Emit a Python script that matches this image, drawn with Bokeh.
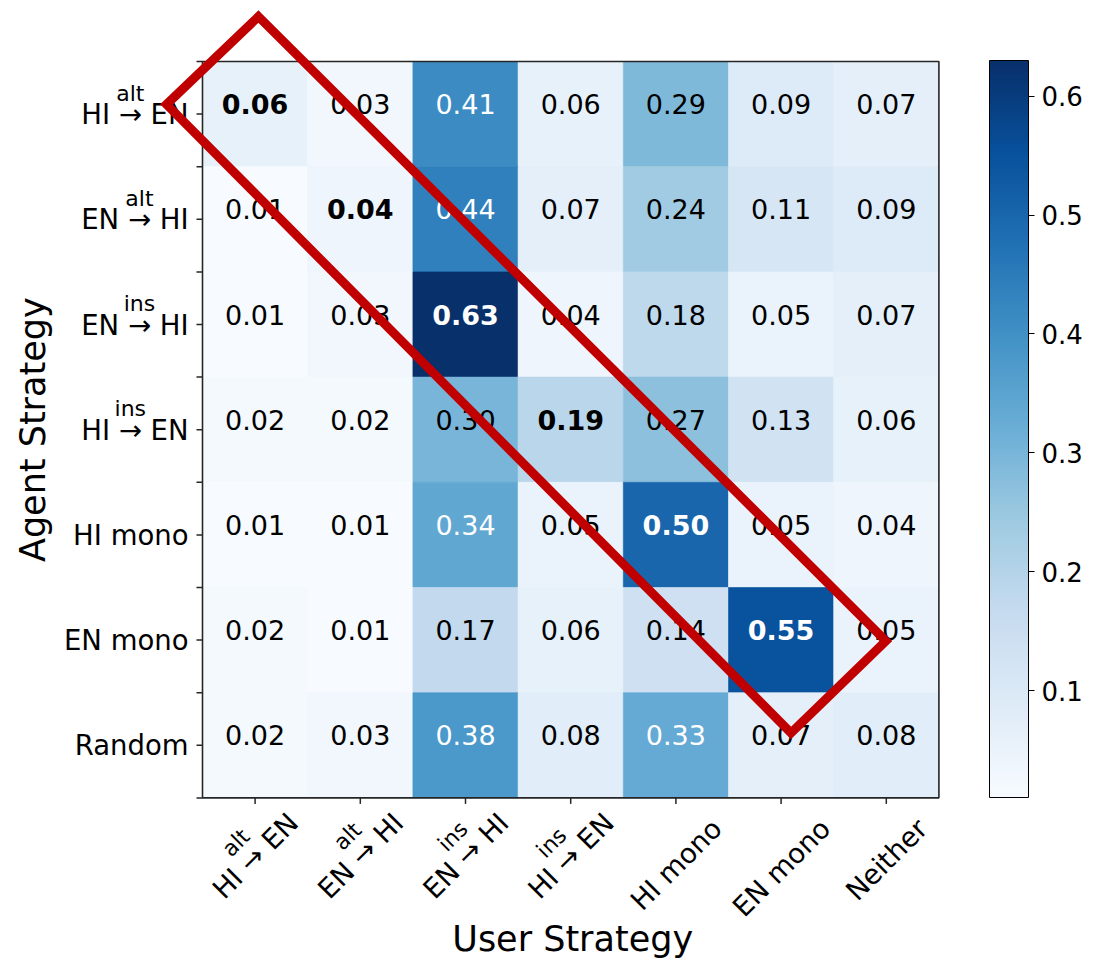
import numpy as np
from bokeh.plotting import figure
from bokeh.models import (ColumnDataSource, LinearColorMapper, ColorBar, FixedTicker,
                          Range1d, PrintfTickFormatter)
from bokeh.core.properties import value
from bokeh.embed import file_html
from bokeh.resources import INLINE

# ---------------- data ----------------
user_labels = ["HI → EN", "EN → HI", "EN → HI", "HI → EN", "HI mono", "EN mono", "Neither"]
user_sups = ["alt", "alt", "ins", "ins", "", "", ""]
agent_labels = ["HI → EN", "EN → HI", "EN → HI", "HI → EN", "HI mono", "EN mono", "Random"]
agent_sups = ["alt", "alt", "ins", "ins", "", "", ""]

row_hi_alt_en = [0.06, 0.03, 0.41, 0.06, 0.29, 0.09, 0.07]
row_en_alt_hi = [0.01, 0.04, 0.44, 0.07, 0.24, 0.11, 0.09]
row_en_ins_hi = [0.01, 0.03, 0.63, 0.04, 0.18, 0.05, 0.07]
row_hi_ins_en = [0.02, 0.02, 0.30, 0.19, 0.27, 0.13, 0.06]
row_hi_mono = [0.01, 0.01, 0.34, 0.05, 0.50, 0.05, 0.04]
row_en_mono = [0.02, 0.01, 0.17, 0.06, 0.14, 0.55, 0.05]
row_random = [0.02, 0.03, 0.38, 0.08, 0.33, 0.07, 0.08]
rows = [row_hi_alt_en, row_en_alt_hi, row_en_ins_hi, row_hi_ins_en,
        row_hi_mono, row_en_mono, row_random]

cbar_ticks = [0.1, 0.2, 0.3, 0.4, 0.5, 0.6]

# highlight band around the diagonal (data units: columns / rows)
band_x = [0.032, 5.996, 5.094, -0.842]
band_y = [6.927, 0.992, 0.118, 6.092]

# ---------------- layout helpers ----------------
n = len(rows)
cell = 105.2
HM_LEFT, HM_TOP = 202.0, 61.0
ORIGIN = 0
W, H = 1091, 958
FONT = "DejaVu Sans"

def px2x(sx):
    return (sx - HM_LEFT) / cell - 0.5

def px2y(sy):
    return (n - 0.5) - (sy - HM_TOP) / cell

EM = {"H": .752, "I": .295, " ": .318, "→": .838, "E": .632, "N": .748, "m": .974,
      "o": .612, "n": .634, "e": .615, "i": .278, "t": .392, "h": .634, "r": .411,
      "R": .695, "a": .613, "d": .635}

def em_width(s):
    return sum(EM.get(ch, 0.6) for ch in s)

# Blues colormap (ColorBrewer Blues 9, interpolated like matplotlib)
blues9 = ['#f7fbff', '#deebf7', '#c6dbef', '#9ecae1', '#6baed6',
          '#4292c6', '#2171b5', '#08519c', '#08306b']
rgb = np.array([[int(c[i:i + 2], 16) for i in (1, 3, 5)] for c in blues9], float)
t9 = np.linspace(0, 1, 9)
t256 = np.linspace(0, 1, 256)
palette = ["#%02x%02x%02x" % tuple(int(round(np.interp(t, t9, rgb[:, k]))) for k in range(3))
           for t in t256]

vals = np.array(rows)
vmin, vmax = float(vals.min()), float(vals.max())
mapper = LinearColorMapper(palette=palette, low=vmin, high=vmax)

p = figure(width=W, height=H,
           x_range=Range1d(px2x(ORIGIN), px2x(ORIGIN + W)),
           y_range=Range1d(px2y(ORIGIN + H), px2y(ORIGIN)),
           output_backend="svg", toolbar_location=None,
           x_axis_location=None, y_axis_location=None,
           min_border=0, outline_line_color=None)
p.grid.visible = False
p.background_fill_color = "white"

# ---------------- heatmap ----------------
xs, ys, vs, txt, tcol, bold = [], [], [], [], [], []
thr = (vmin + vmax) / 2
for r, row in enumerate(rows):
    for c, v in enumerate(row):
        xs.append(c)
        ys.append(n - 1 - r)
        vs.append(v)
        txt.append(f"{v:.2f}")
        tcol.append("white" if v > thr else "black")
        same = (agent_labels[r] == user_labels[c]) and (agent_sups[r] == user_sups[c])
        bold.append(same)
src = ColumnDataSource(dict(x=xs, y=ys, v=vs, t=txt, tc=tcol))
p.rect(x="x", y="y", width=1, height=1, source=src,
       fill_color={"field": "v", "transform": mapper},
       line_color={"field": "v", "transform": mapper}, line_width=0.6)

bsel = [i for i, b in enumerate(bold) if b]
nsel = [i for i, b in enumerate(bold) if not b]
for sel, style in ((nsel, "normal"), (bsel, "bold")):
    s = ColumnDataSource(dict(x=[xs[i] for i in sel], y=[ys[i] for i in sel],
                              t=[txt[i] for i in sel], tc=[tcol[i] for i in sel]))
    p.text(x="x", y="y", text="t", source=s, text_color="tc",
           text_font=value(FONT), text_font_size="27px", text_font_style=style,
           text_align="center", text_baseline="middle", y_offset=-10)

# frame / spines
p.rect(x=(n - 1) / 2, y=(n - 1) / 2, width=n, height=n, fill_color=None,
       line_color="#262626", line_width=1.6)

# ticks
tl = 6 / cell
cols = list(range(n))
p.segment(x0=cols, y0=[-0.5] * n, x1=cols, y1=[-0.5 - tl] * n,
          line_color="#262626", line_width=1.5)
yt = [k for k in range(n)] + [k + 0.5 for k in range(-1, n)]
p.segment(x0=[-0.5] * len(yt), y0=yt, x1=[-0.5 - tl] * len(yt), y1=yt,
          line_color="#262626", line_width=1.5)

# y tick labels
FS = 27.5
SFS = 22
lab_right = 188.0
for r, (lab, sup) in enumerate(zip(agent_labels, agent_sups)):
    yy = n - 1 - r
    p.text(x=[px2x(lab_right)], y=[yy], text=[lab], text_font=value(FONT),
           text_font_size=f"{FS}px", text_align="right", text_baseline="middle",
           text_color="black")
    if sup:
        k = lab.index("→")
        right_em = em_width(lab[k + 1:]) + EM["→"] / 2
        sx = lab_right - right_em * FS
        p.text(x=[px2x(sx)], y=[yy], text=[sup], text_font=value(FONT),
               text_font_size=f"{SFS}px", text_align="center", text_baseline="middle",
               y_offset=-21, text_color="black")

# x tick labels (rotated 45 deg, centred under tick)
c45 = np.cos(np.pi / 4)
for c, (lab, sup) in enumerate(zip(user_labels, user_sups)):
    tick_sx = HM_LEFT + (c + 0.5) * cell
    wpx = em_width(lab) * FS
    if sup:
        cx, cy = tick_sx, 855.0
        k = lab.index("→")
        arrow_em = em_width(lab[:k]) + EM["→"] / 2
        along = (arrow_em - em_width(lab) / 2) * FS
        ax, ay = cx + along * c45, cy - along * c45
        p.text(x=[px2x(ax - 16)], y=[px2y(ay - 16)], text=[sup], text_font=value(FONT),
               text_font_size=f"{SFS}px", text_align="center", text_baseline="middle",
               angle=np.pi / 4, text_color="black")
    else:
        cx, cy = tick_sx, 812 + (wpx + 31) / 2.83
    p.text(x=[px2x(cx)], y=[px2y(cy)], text=[lab], text_font=value(FONT),
           text_font_size=f"{FS}px", text_align="center", text_baseline="middle",
           angle=np.pi / 4, text_color="black")

# axis titles (anchor = visual centre of the text line)
p.text(x=[px2x(32)], y=[(n - 1) / 2], text=["Agent Strategy"], text_font=value(FONT),
       text_font_size="35px", text_align="center", text_baseline="middle",
       angle=np.pi / 2, text_color="black")
p.text(x=[(n - 1) / 2 + 2 / cell], y=[px2y(938)], text=["User Strategy"],
       text_font=value(FONT), text_font_size="35px", text_align="center",
       text_baseline="middle", text_color="black")

# highlight band
p.patch(x=band_x, y=band_y, fill_color=None, line_color="#c00000", line_width=9,
        line_join="miter")

# colour bar
cb = ColorBar(color_mapper=mapper, location=(989 - ORIGIN, (ORIGIN + H) - 797),
              width=39, height=737, padding=0, margin=0,
              ticker=FixedTicker(ticks=cbar_ticks),
              formatter=PrintfTickFormatter(format="%.1f"),
              major_label_text_font=FONT, major_label_text_font_size="26px",
              major_label_text_color="black",
              major_tick_in=0, major_tick_out=6, major_tick_line_color="black",
              minor_tick_line_color=None, bar_line_color="black", bar_line_width=1,
              label_standoff=7, background_fill_color=None, border_line_color=None)
p.add_layout(cb)

open("out.html", "w").write(file_html(p, INLINE))
